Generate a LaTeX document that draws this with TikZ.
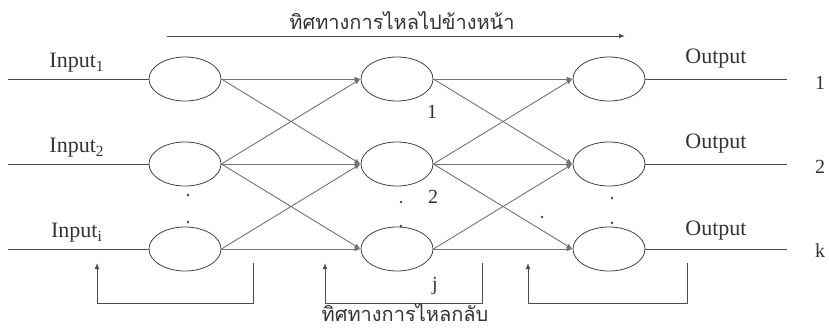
\documentclass[tikz,border=0pt]{standalone}
\usepackage{fontspec}
\setmainfont{Liberation Serif}
\newfontfamily\thaifont[Script=Thai]{Loma}
\usetikzlibrary{arrows.meta,shapes.geometric}

\begin{document}
\begin{tikzpicture}[
  x=0.5pt, y=-0.5pt, font=\fontsize{11}{13}\selectfont, text=black!80,
  unit/.style={draw=black!75, ellipse, minimum width=36pt, minimum height=22pt, inner sep=0pt},
  wire/.style={draw=black!70, line width=0.5pt},
  conn/.style={draw=black!55, line width=0.45pt, -{Latex[length=3pt,width=2.4pt]}},
  back/.style={draw=black!70, line width=0.5pt, -{Latex[length=3pt,width=2.4pt]}},
  thai/.style={font=\thaifont\fontsize{10}{12}\selectfont, inner sep=0pt},
  lab/.style={inner sep=0pt},
  idx/.style={inner sep=0pt, font=\fontsize{10}{12}\selectfont},
  dot/.style={circle, fill=black!75, inner sep=0pt, minimum size=1.4pt}]
\useasboundingbox (0,0) rectangle (829,327);
% --- three layers, one row each
\foreach \r/\y in {1/79,2/164,3/249} {
  \node[unit] (in\r) at (185,\y) {};
  \node[unit] (h\r) at (397,\y) {};
  \node[unit] (o\r) at (609,\y) {};
  \coordinate (s\r) at (8,\y);
  \coordinate (e\r) at (787,\y);
  \draw[wire] (s\r) -- (in\r);
  \draw[wire] (o\r) -- (e\r);
}
% --- weights between the layers
\foreach \a/\b in {1/1,1/2,2/1,2/2,2/3,3/2,3/3} {
  \draw[conn] (in\a.east) -- (h\b.west);
  \draw[conn] (h\a.east) -- (o\b.west);
}
% --- labels
\node[lab] (lin1) at (77,63) {Input\textsubscript{1}};
\node[lab] (lin2) at (77,148) {Input\textsubscript{2}};
\node[lab] (lin3) at (77,233) {Input\textsubscript{i}};
\node[lab] (lout1) at (716,59) {Output};
\node[lab] (lout2) at (716,144) {Output};
\node[lab] (lout3) at (716,231) {Output};
\node[idx] (nk1) at (820,83) {1};
\node[idx] (nk2) at (820,167) {2};
\node[idx] (nk3) at (820,251) {k};
\node[idx] (nh1) at (432,112) {1};
\node[idx] (nh2) at (433,197) {2};
\node[idx] (nh3) at (435,286) {j};
% --- dots
\foreach \p/\x/\y in {a/188/195,b/188/222,c/401/202,d/401/226,e/612/198,f/612/223,g/542/217}
  \node[dot] (dt\p) at (\x,\y) {};
% --- forward direction
\node[thai] (fwd) at (402,21) {ทิศทางการไหลไปข้างหน้า};
\coordinate (fs) at (167,36);
\coordinate (fe) at (625,36);
\draw[back] (fs) -- (fe);
% --- backward direction
\coordinate (b1a) at (253,263); \coordinate (b1b) at (97,263);
\coordinate (b2a) at (482,263); \coordinate (b2b) at (325,263);
\coordinate (b3a) at (687,263); \coordinate (b3b) at (528,263);
\foreach \k in {1,2,3}
  \draw[back] (b\k a) -- ++(0,40) -| (b\k b);
\node[thai] (bwd) at (405,313) {ทิศทางการไหลกลับ};
\end{tikzpicture}
\end{document}
